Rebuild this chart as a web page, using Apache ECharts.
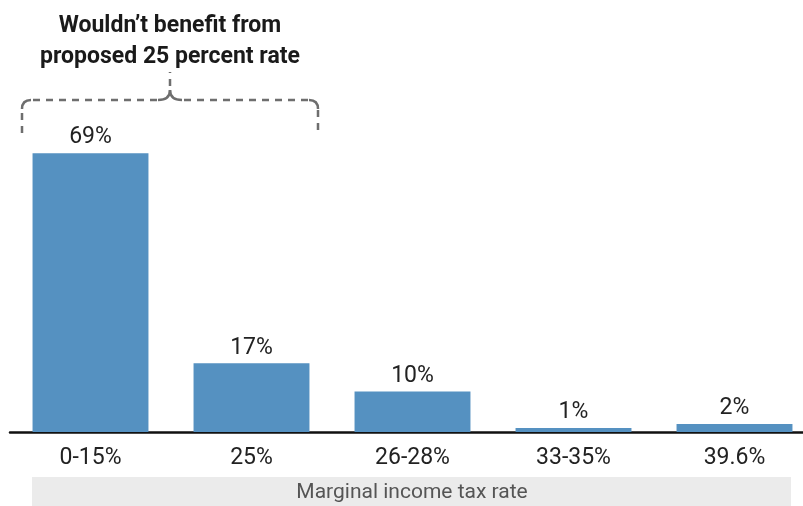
<!DOCTYPE html>
<html><head><meta charset="utf-8">
<script src="https://cdn.jsdelivr.net/npm/echarts@6/dist/echarts.min.js"></script>
<style>html,body{margin:0;padding:0;background:#fff}#c{width:803px;height:506px}</style>
</head><body><div id="c"></div>
<script>
const categories = ['0-15%', '25%', '26-28%', '33-35%', '39.6%'];
const shares = [69, 17, 10, 1, 2];
const axisTitle = 'Marginal income tax rate';
const noteLines = ['Wouldn\u2019t benefit from', 'proposed 25 percent rate'];

const FONT = 'Roboto';
const chart = echarts.init(document.getElementById('c'));
const dash = { fill: null, stroke: '#6e6e6e', lineWidth: 2.5, lineDash: [7, 6] };
function ln(x1, y1, x2, y2) { return { type: 'line', shape: { x1, y1, x2, y2 }, style: dash }; }
function qc(x1, y1, cx, cy, x2, y2) { return { type: 'bezierCurve', shape: { x1, y1, x2, y2, cpx1: cx, cpy1: cy }, style: Object.assign({}, dash, { lineDash: null }) }; }
chart.setOption({
  animation: false,
  grid: { left: 10, width: 805, top: 28, bottom: 74, outerBoundsMode: 'none' },
  xAxis: {
    type: 'category', data: categories,
    axisLine: { lineStyle: { color: '#111', width: 2.5 } },
    axisTick: { show: false },
    axisLabel: { color: '#222', fontSize: 23, fontFamily: FONT, margin: 15 }
  },
  yAxis: { type: 'value', min: 0, max: 100, show: false, splitLine: { show: false } },
  series: [{
    type: 'bar', data: shares, barCategoryGap: '28%',
    itemStyle: { color: '#5591c1' },
    label: { show: true, position: 'top', distance: 4, formatter: '{c}%', color: '#222', fontSize: 23, fontFamily: FONT }
  }],
  graphic: [
    { type: 'rect', shape: { x: 32, y: 477, width: 759, height: 30 }, style: { fill: '#ebebeb' }, z: 0 },
    { type: 'text', x: 412, y: 493, style: { text: axisTitle, fill: '#555', fontSize: 21, fontFamily: FONT, align: 'center', verticalAlign: 'middle' }, z: 1 },
    { type: 'text', x: 170, y: 42, style: {
        text: noteLines.join('\n'), fill: '#1a1a1a', fontSize: 23, fontWeight: 'bold', fontFamily: FONT,
        align: 'center', verticalAlign: 'middle', lineHeight: 31
      } },
    ln(22, 133, 22, 110), qc(22, 109, 22, 100, 31, 100), ln(33, 100, 158, 100),
    qc(158, 100, 170, 100, 170, 90), ln(170, 86, 170, 72),
    qc(170, 90, 170, 100, 182, 100), ln(184, 100, 309, 100),
    qc(309, 100, 318, 100, 318, 109), ln(318, 110, 318, 133)
  ]
});
</script></body></html>
